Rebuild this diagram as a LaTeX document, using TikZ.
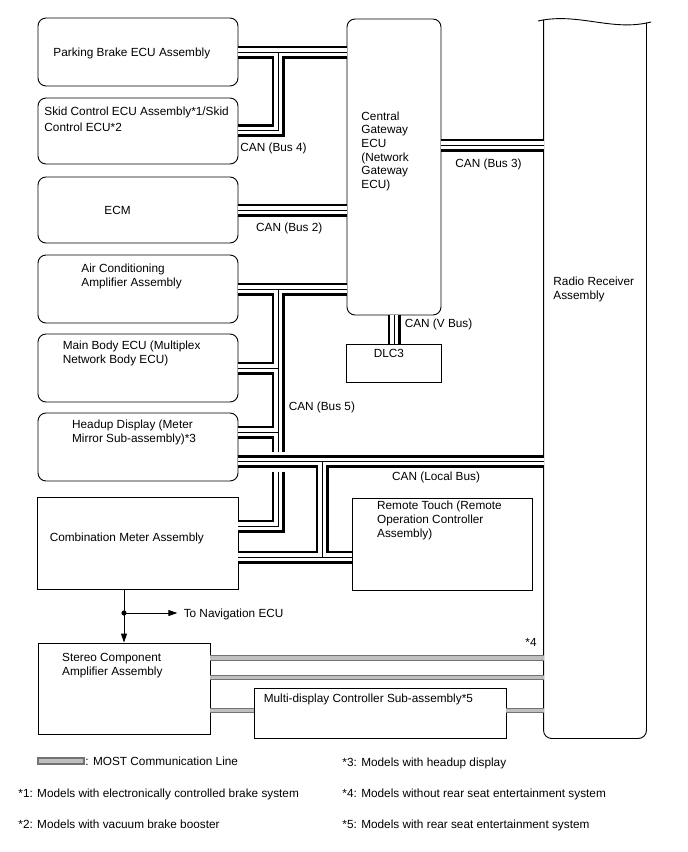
\documentclass[tikz,border=0pt]{standalone}
\usepackage{fontspec}
\setmainfont{Liberation Sans}
\usetikzlibrary{arrows.meta, calc}
\tikzset{
  every picture/.style={x=1pt, y=-1pt, line width=0.9pt},
  every node/.style={font=\fontsize{11.8}{14}\selectfont},
  ecubox/.style={draw, rounded corners=8pt, inner sep=0pt, minimum width=200pt},
  plainbox/.style={draw, inner sep=0pt},
  lbl/.style={anchor=base west, align=left, inner sep=0pt},
  canouter/.style={draw=black, line width=13pt},
  caninner/.style={draw=white, line width=7.5pt},
  cancore/.style={draw=black, line width=1pt},
  most/.style={draw=black!55, double=black!25, double distance=3.6pt, line width=1.1pt},
  arr/.style={-{Triangle[length=9pt, width=6pt]}},
}
% all CAN wiring, drawn once per layer
\newcommand{\canwires}[1]{%
  % bus 4
  \draw[#1] (pb.east) -- (pb.east -| gw.west);
  \draw[#1] (sk.east |- 0,130.5) -| (jfour);
  % bus 2 and bus 3
  \draw[#1] (ecm.east) -- (ecm.east -| gw.west);
  \draw[#1] (gw.east |- 0,145) -- (radio.west |- 0,145);
  % v bus
  \draw[#1] (gw.south) -- (dlc.north);
  % bus 5
  \draw[#1] (ac.east) -- (ac.east -| gw.west);
  \draw[#1] (jfive) -- (jfive |- 0,451.5);
  \draw[#1] (mb.east) -- (mb.east -| jfive);
  \draw[#1] (hu.east |- 0,432) -- (jfive |- 0,432);
  \draw[#1] (jfive |- 0,471.5) |- (cm.east |- 0,526);
  % local bus
  \draw[#1] (hu.east |- 0,461.5) -- (radio.west |- 0,461.5);
  \draw[#1] (cm.east |- 0,557) -- (rt.west |- 0,557);
  \draw[#1] (jloc) -- (jloc |- 0,557);
}

\begin{document}
\begin{tikzpicture}
  \fill[white] (0,0) rectangle (688,852);
  % boxes
  \node[ecubox, minimum height=68pt] (pb) at (138,52) {};
  \node[ecubox, minimum height=66pt] (sk) at (138,131) {};
  \node[ecubox, minimum height=66pt] (ecm) at (138,210) {};
  \node[ecubox, minimum height=68pt] (ac) at (138,289) {};
  \node[ecubox, minimum height=68pt] (mb) at (138,368) {};
  \node[ecubox, minimum height=68pt] (hu) at (138,447) {};
  \node[plainbox, minimum width=201pt, minimum height=92pt] (cm) at (137.5,543) {};
  \node[plainbox, minimum width=172pt, minimum height=91pt] (st) at (124,688.5) {};
  \node[ecubox, minimum width=94pt, minimum height=296pt] (gw) at (394,167) {};
  \node[plainbox, minimum width=95pt, minimum height=38pt] (dlc) at (394,363) {};
  \node[plainbox, minimum width=180pt, minimum height=92pt] (rt) at (442,544) {};
  \node[plainbox, minimum width=252pt, minimum height=50pt] (md) at (380,713) {};
  \node[inner sep=0pt, minimum width=102pt, minimum height=718pt] (radio) at (595,379) {};
  \draw[rounded corners=8pt] (radio.north west) -- (radio.south west)
    -- (radio.south east) -- ([yshift=-3pt]radio.north east);
  \draw (538,21) .. controls (578,12) and (612,32) .. (651,22);

  \coordinate (jfour) at (278,52);
  \coordinate (jfive) at (278,289);
  \coordinate (jloc) at (322,461.5);
  \canwires{canouter}
  \canwires{caninner}
  \canwires{cancore}

  % MOST lines
  \draw[most] (st.east |- 0,658) -- (radio.west |- 0,658);
  \draw[most] (st.east |- 0,677.5) -- (radio.west |- 0,677.5);
  \draw[most] (st.east |- 0,710.5) -- (md.west |- 0,710.5);
  \draw[most] (md.east |- 0,710.5) -- (radio.west |- 0,710.5);

  % to navigation
  \coordinate (dot) at (124,613);
  \draw (cm.south -| dot) -- (dot);
  \draw[arr] (dot) -- (st.north -| dot);
  \node[lbl] (nav) at (183.3,617) {To Navigation ECU};
  \draw[arr] (dot) -- ([xshift=-6pt]nav.west |- dot);
  \fill (dot) circle[radius=2.6pt];

  % texts (base = last line)
  \node[lbl] (tpb) at (53,56) {Parking Brake ECU Assembly};
  \node[lbl, font=\fontsize{11.8}{16.7}\selectfont] (tsk) at (44,131.7) {Skid Control ECU Assembly*1/Skid\\Control ECU*2};
  \node[lbl] (tecm) at (104,214) {ECM};
  \node[lbl] (tac) at (81,286.3) {Air Conditioning\\Amplifier Assembly};
  \node[lbl] (tmb) at (62.3,363.3) {Main Body ECU (Multiplex\\Network Body ECU)};
  \node[lbl] (thu) at (71.7,442.3) {Headup Display (Meter\\Mirror Sub-assembly)*3};
  \node[lbl] (tcm) at (49.3,541) {Combination Meter Assembly};
  \node[lbl] (tst) at (61.7,675) {Stereo Component\\Amplifier Assembly};
  \node[lbl, font=\fontsize{11.8}{13.7}\selectfont] (tgw) at (361,188.5) {Central\\Gateway\\ECU\\(Network\\Gateway\\ECU)};
  \node[lbl] (tdlc) at (373.3,357.7) {DLC3};
  \node[lbl] (trt) at (376.7,537) {Remote Touch (Remote\\Operation Controller\\Assembly)};
  \node[lbl] (tmd) at (263.3,702.7) {Multi-display Controller Sub-assembly*5};
  \node[lbl] (tradio) at (553,299) {Radio Receiver\\Assembly};
  \node[lbl] (cfour) at (240,151.7) {CAN (Bus 4)};
  \node[lbl] (ctwo) at (255.7,231.7) {CAN (Bus 2)};
  \node[lbl] (cthree) at (455,167) {CAN (Bus 3)};
  \node[lbl] (cv) at (404.3,327.3) {CAN (V Bus)};
  \node[lbl] (cfive) at (288.3,410) {CAN (Bus 5)};
  \node[lbl] (clocal) at (391.7,480) {CAN (Local Bus)};
  \node[lbl] (sfour) at (525,646) {*4};

  % legend
  \node[draw=black!55, fill=black!25, line width=1.1pt, inner sep=0pt, minimum width=46pt, minimum height=6pt] (mostkey) at (61,761) {};
  \node[lbl] (tmost) at (85,765) {: MOST Communication Line};
  \node[lbl] (nthree) at (342,766) {*3: Models with headup display};
  \node[lbl] (none) at (18,797) {*1: Models with electronically controlled brake system};
  \node[lbl] (nfour) at (342,797) {*4: Models without rear seat entertainment system};
  \node[lbl] (ntwo) at (18,828) {*2: Models with vacuum brake booster};
  \node[lbl] (nfive) at (342,828) {*5: Models with rear seat entertainment system};
\end{tikzpicture}
\end{document}
